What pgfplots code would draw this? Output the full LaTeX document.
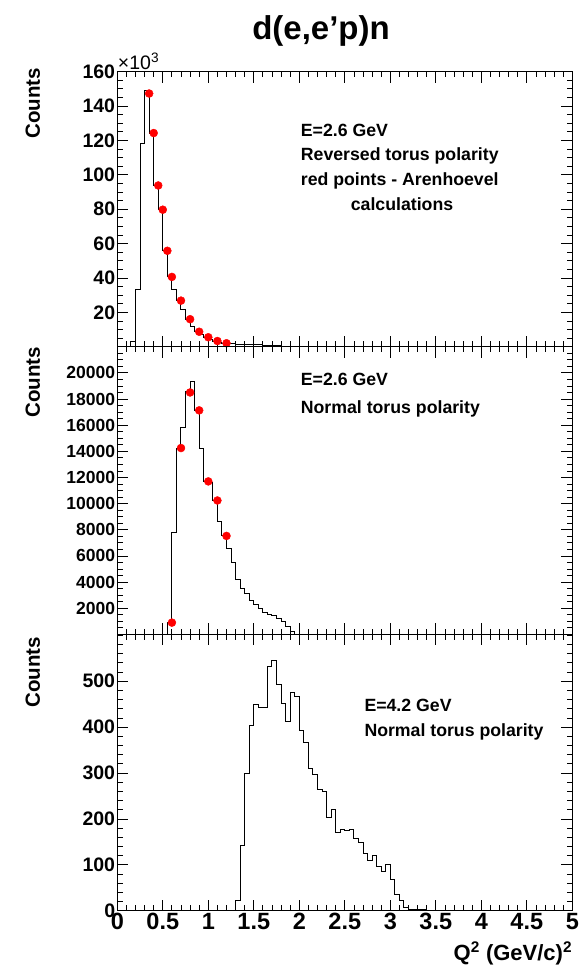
\documentclass[border=0pt]{standalone}
\usepackage{pgfplots}
\pgfplotsset{compat=1.18}
\usepackage{fontspec}
\setmainfont{Liberation Sans}
\begin{document}
\begin{tikzpicture}
\path[use as bounding box] (-117.3bp,-55.3bp) rectangle (466.7bp,910.7bp);
\pgfplotsset{
  rootax/.style={
    scale only axis, width=455bp, xmin=0, xmax=5, ymin=0,
    tick align=inside,
    major tick length=11bp, minor tick length=5.5bp,
    xtick={0,0.5,...,5}, minor xtick={0,0.1,...,5},
    axis line style={line width=1.2bp},
    every tick/.style={black, line width=0.8bp},
    /pgf/number format/assume math mode=true,
    /pgf/number format/1000 sep={},
    scaled y ticks=false,
    yticklabel style={inner sep=2bp},
    xticklabel style={inner sep=2bp, font=\fontsize{23.5bp}{24bp}\selectfont\bfseries},
  },
  hist/.style={const plot, black, line width=1bp, no marks},
  pts/.style={only marks, mark=*, mark size=4bp, red, mark options={draw=red, fill=red}},
}
% ---------- top panel ----------
\begin{axis}[rootax, at={(0bp,564bp)}, anchor=south west, height=275bp,
  ymax=160, ytick={20,40,...,160}, minor ytick={0,5,...,160}, xticklabels={},
  yticklabel style={font=\fontsize{19.5bp}{20bp}\selectfont\bfseries}]
\addplot[hist] coordinates {
(0,0) (0.05,0) (0.1,0) (0.15,2.9) (0.2,33) (0.25,118) (0.3,149) (0.35,124)
(0.4,94) (0.45,80) (0.5,56) (0.55,41) (0.6,33) (0.65,27) (0.7,21.4) (0.75,16)
(0.8,11.7) (0.85,8.7) (0.9,7) (0.95,5.5) (1.0,4.2) (1.05,3.3) (1.1,2.6) (1.15,2.1)
(1.2,1.8) (1.25,1.6) (1.3,1.5) (1.35,1.3) (1.4,1.1) (1.5,1.0) (1.6,0.8) (1.7,0.6)
(1.8,0.4) (1.9,0.3) (2.0,0.2) (2.2,0.1) (2.5,0.05) (3.0,0) (5.0,0)
};
\addplot[pts] coordinates {
(0.35,147.3) (0.4,124.3) (0.45,93.8) (0.5,79.7) (0.55,55.8) (0.6,40.6)
(0.7,26.8) (0.8,16) (0.9,8.7) (1.0,5.5) (1.1,3.3) (1.2,2)
};
\end{axis}
% ---------- middle panel ----------
\begin{axis}[rootax, at={(0bp,276.3bp)}, anchor=south west, height=287.7bp,
  ymax=22000, ytick={2000,4000,...,20000}, minor ytick={0,500,...,22000}, xticklabels={},
  yticklabel style={font=\fontsize{17.5bp}{18bp}\selectfont\bfseries}]
\addplot[hist] coordinates {
(0,0) (0.5,0) (0.55,900) (0.6,7820) (0.65,14250) (0.7,15840) (0.75,18570)
(0.8,19320) (0.85,17130) (0.9,14200) (0.95,11700) (1.0,11600) (1.05,10240)
(1.1,8630) (1.15,7530) (1.2,6540) (1.25,5520) (1.3,4190) (1.35,3530) (1.4,3090)
(1.45,2580) (1.5,2250) (1.55,1945) (1.6,1660) (1.65,1540) (1.7,1430) (1.75,1230)
(1.8,970) (1.85,590) (1.9,240) (1.95,0) (5.0,0)
};
\addplot[pts] coordinates {
(0.6,900) (0.7,14250) (0.8,18500) (0.9,17130) (1.0,11700) (1.1,10240) (1.2,7530)
};
\end{axis}
% ---------- bottom panel ----------
\begin{axis}[rootax, at={(0bp,0bp)}, anchor=south west, height=276.3bp,
  ymax=602, ytick={0,100,...,500}, minor ytick={0,20,...,600},
  yticklabel style={font=\fontsize{19.5bp}{20bp}\selectfont\bfseries}]
\addplot[hist] coordinates {
(0,0) (1.25,0) (1.3,22) (1.35,141) (1.4,299) (1.45,404) (1.5,450) (1.55,442)
(1.6,443) (1.65,533) (1.7,546) (1.75,493) (1.8,451) (1.85,412) (1.9,475)
(1.95,467) (2.0,393) (2.05,367) (2.1,309) (2.15,296) (2.2,265) (2.25,259)
(2.3,204) (2.35,220) (2.4,170) (2.45,176) (2.5,174) (2.55,178) (2.6,158)
(2.65,148) (2.7,125) (2.75,110) (2.8,120) (2.85,97) (2.9,85) (2.95,100)
(3.0,67) (3.05,36) (3.1,23) (3.15,8) (3.2,3) (3.25,2) (3.4,1) (3.6,1) (4.0,0) (5.0,0)
};
\end{axis}
% ---------- texts ----------
\node[font=\fontsize{33bp}{36bp}\selectfont\bfseries, anchor=base] at (203.7bp,870.7bp) {d(e,e’p)n};
\node[font=\fontsize{19.5bp}{20bp}\selectfont, anchor=base west, inner sep=0pt] at (0.5bp,840.7bp) {×10\textsuperscript{3}};
\begin{scope}[every node/.style={rotate=90, anchor=base east, inner sep=0pt, font=\fontsize{20.5bp}{22bp}\selectfont\bfseries}]
\node at (-77.3bp,842.7bp) {Counts};
\node at (-77.3bp,563.7bp) {Counts};
\node at (-77.3bp,273.7bp) {Counts};
\end{scope}
\begin{scope}[every node/.style={anchor=base west, inner sep=0pt, font=\fontsize{17.7bp}{20bp}\selectfont\bfseries}]
\node at (183.4bp,773.7bp) {E=2.6 GeV};
\node at (183.4bp,750bp) {Reversed torus polarity};
\node at (183.4bp,725bp) {red points - Arenhoevel};
\node[anchor=base] at (284.7bp,699.7bp) {calculations};
\node at (183.4bp,524.7bp) {E=2.6 GeV};
\node at (183.4bp,496.7bp) {Normal torus polarity};
\node at (247bp,199.2bp) {E=4.2 GeV};
\node at (247bp,173.7bp) {Normal torus polarity};
\end{scope}
\node[anchor=base east, inner sep=0pt, font=\fontsize{22bp}{24bp}\selectfont\bfseries] at (455bp,-49.5bp) {Q\textsuperscript{2} (GeV/c)\textsuperscript{2}};
\end{tikzpicture}
\end{document}
